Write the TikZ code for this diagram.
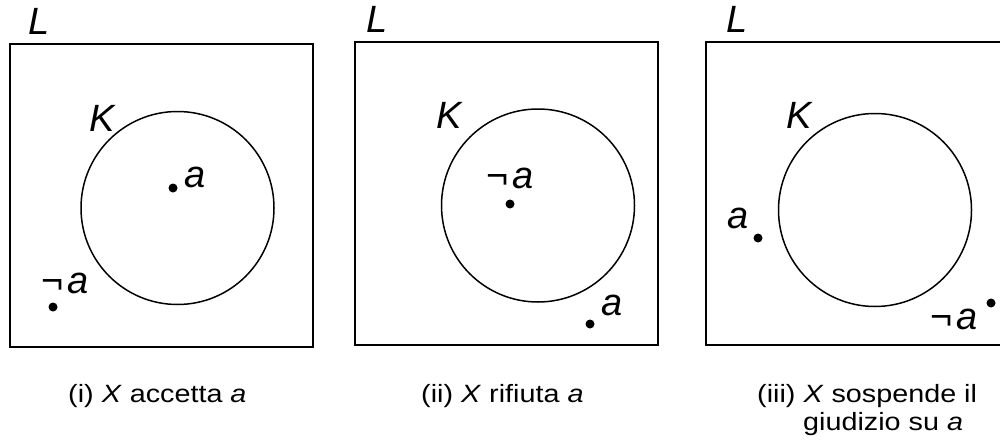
\documentclass[tikz,border=0pt]{standalone}
\usepackage{fontspec}
\setmainfont{Liberation Sans}
\begin{document}
\begin{tikzpicture}[x=1pt,y=-1pt,
  frame/.style={draw, line width=1.9pt},
  ring/.style={draw, circle, line width=1.5pt, inner sep=0pt, minimum size=193pt},
  pt/.style={circle, fill, inner sep=0pt, minimum size=9pt},
  lbl/.style={font=\fontsize{38}{42}\selectfont\itshape, inner sep=0pt, anchor=base west},
  captext/.style={font=\fontsize{25}{29}\selectfont, inner sep=0pt, anchor=base west, xscale=1.15}]
\newcommand{\nega}{{\upshape ¬}\kern4pt a}
\useasboundingbox (0,0) rectangle (1000,444);
% panel 1
\draw[frame] (10,44) rectangle (313,347);
\node[ring] (K1) at (177.5,208) {};
\node[pt] (a1) at (173,188) {};
\node[lbl] (la1) at (184,187) {a};
\node[pt] (n1) at (53,307) {};
\node[lbl] (ln1) at (41,293) {\nega};
\node[lbl] (L1) at (28,35) {L};
\node[lbl] (Kl1) at (89,131) {K};
\node[captext] (c1) at (68,402) {(i) \textit{X} accetta \textit{a}};
% panel 2
\draw[frame] (355,42) rectangle (658,345);
\node[ring] (K2) at (538,205.5) {};
\node[pt] (n2) at (510,204) {};
\node[lbl] (ln2) at (486,188) {\nega};
\node[pt] (a2) at (590,324) {};
\node[lbl] (la2) at (601,315) {a};
\node[lbl] (L2) at (366,33) {L};
\node[lbl] (Kl2) at (436,128) {K};
\node[captext] (c2) at (421,402) {(ii) \textit{X} rifiuta \textit{a}};
% panel 3
\draw[frame] (1012,42) -- (706,42) -- (706,345) -- (1012,345);
\node[ring] (K3) at (875,210) {};
\node[pt] (a3) at (758,238) {};
\node[lbl] (la3) at (727,228) {a};
\node[pt] (n3) at (991,303) {};
\node[lbl] (ln3) at (930,329) {\nega};
\node[lbl] (L3) at (726,33) {L};
\node[lbl] (Kl3) at (786,128) {K};
\node[captext] (c3a) at (757,402) {(iii) \textit{X} sospende il};
\node[captext] (c3b) at (803,430) {giudizio su \textit{a}};
\end{tikzpicture}
\end{document}
